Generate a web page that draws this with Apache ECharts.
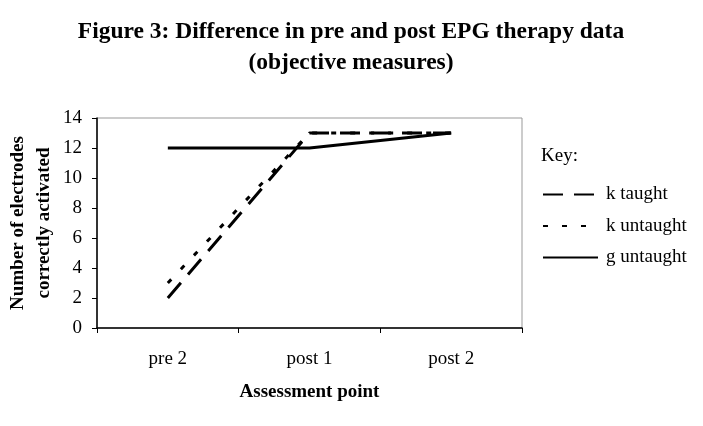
<!DOCTYPE html>
<html>
<head>
<meta charset="utf-8">
<script src="https://cdn.jsdelivr.net/npm/echarts@6/dist/echarts.min.js"></script>
<style>
  html, body { margin: 0; padding: 0; background: #fff; }
  #main { width: 703px; height: 426px; }
</style>
</head>
<body>
<div id="main"></div>
<script>
var categories = ['pre 2', 'post 1', 'post 2'];
var kTaught = [2, 13, 13];
var kUntaught = [3, 13, 13];
var gUntaught = [12, 12, 13];
var seriesNames = ['k taught', 'k untaught', 'g untaught'];

var serif = 'Liberation Serif, Times New Roman, serif';

var chart = echarts.init(document.getElementById('main'));

function lineSeries(name, data, type) {
    return {
        name: name,
        type: 'line',
        data: data,
        symbol: 'none',
        showSymbol: false,
        lineStyle: { color: '#000', width: 3, type: type },
        itemStyle: { color: '#000' }
    };
}

chart.setOption({
    animation: false,
    backgroundColor: '#fff',
    textStyle: { fontFamily: serif },
    title: {
        text: 'Figure 3: Difference in pre and post EPG therapy data\n(objective measures)',
        left: 346,
        textAlign: 'center',
        top: 11,
        textStyle: { fontFamily: serif, fontSize: 23.5, fontWeight: 'bold', color: '#000', lineHeight: 31 }
    },
    graphic: [{
        type: 'text',
        left: 541,
        top: 147,
        style: { text: 'Key:', font: '19px ' + serif, fill: '#000' }
    }],
    legend: {
        orient: 'vertical',
        left: 537,
        top: 180,
        itemWidth: 55,
        itemHeight: 14,
        itemGap: 12.5,
        data: seriesNames,
        itemStyle: { opacity: 0 },
        textStyle: { fontFamily: serif, fontSize: 19, color: '#000', padding: [0, 0, 0, 3] }
    },
    grid: {
        left: 97,
        right: 181,
        top: 118,
        bottom: 98,
        outerBoundsMode: 'none',
        containLabel: false,
        show: true,
        borderColor: '#999',
        borderWidth: 1
    },
    xAxis: {
        type: 'category',
        data: categories,
        boundaryGap: true,
        name: 'Assessment point',
        nameLocation: 'middle',
        nameGap: 55,
        nameTextStyle: { fontFamily: serif, fontSize: 19, fontWeight: 'bold', color: '#000' },
        axisLine: { lineStyle: { color: '#000', width: 1.5 } },
        axisTick: { show: true, length: 5, lineStyle: { color: '#000' } },
        axisLabel: { margin: 22, fontFamily: serif, fontSize: 19, color: '#000' },
        splitLine: { show: false }
    },
    yAxis: {
        type: 'value',
        min: 0,
        max: 14,
        interval: 2,
        name: 'Number of electrodes\ncorrectly activated',
        nameLocation: 'middle',
        nameRotate: 90,
        nameGap: 40,
        nameMoveOverlap: false,
        nameTextStyle: { fontFamily: serif, fontSize: 19, fontWeight: 'bold', color: '#000', lineHeight: 26 },
        axisLine: { show: true, lineStyle: { color: '#000', width: 1.5 } },
        axisTick: { show: true, length: 5, lineStyle: { color: '#000' } },
        axisLabel: { margin: 15, fontFamily: serif, fontSize: 19, color: '#000' },
        splitLine: { show: false }
    },
    series: [
        lineSeries(seriesNames[0], kTaught, [20, 11]),
        lineSeries(seriesNames[1], kUntaught, [5, 14]),
        lineSeries(seriesNames[2], gUntaught, 'solid')
    ]
});
</script>
</body>
</html>
